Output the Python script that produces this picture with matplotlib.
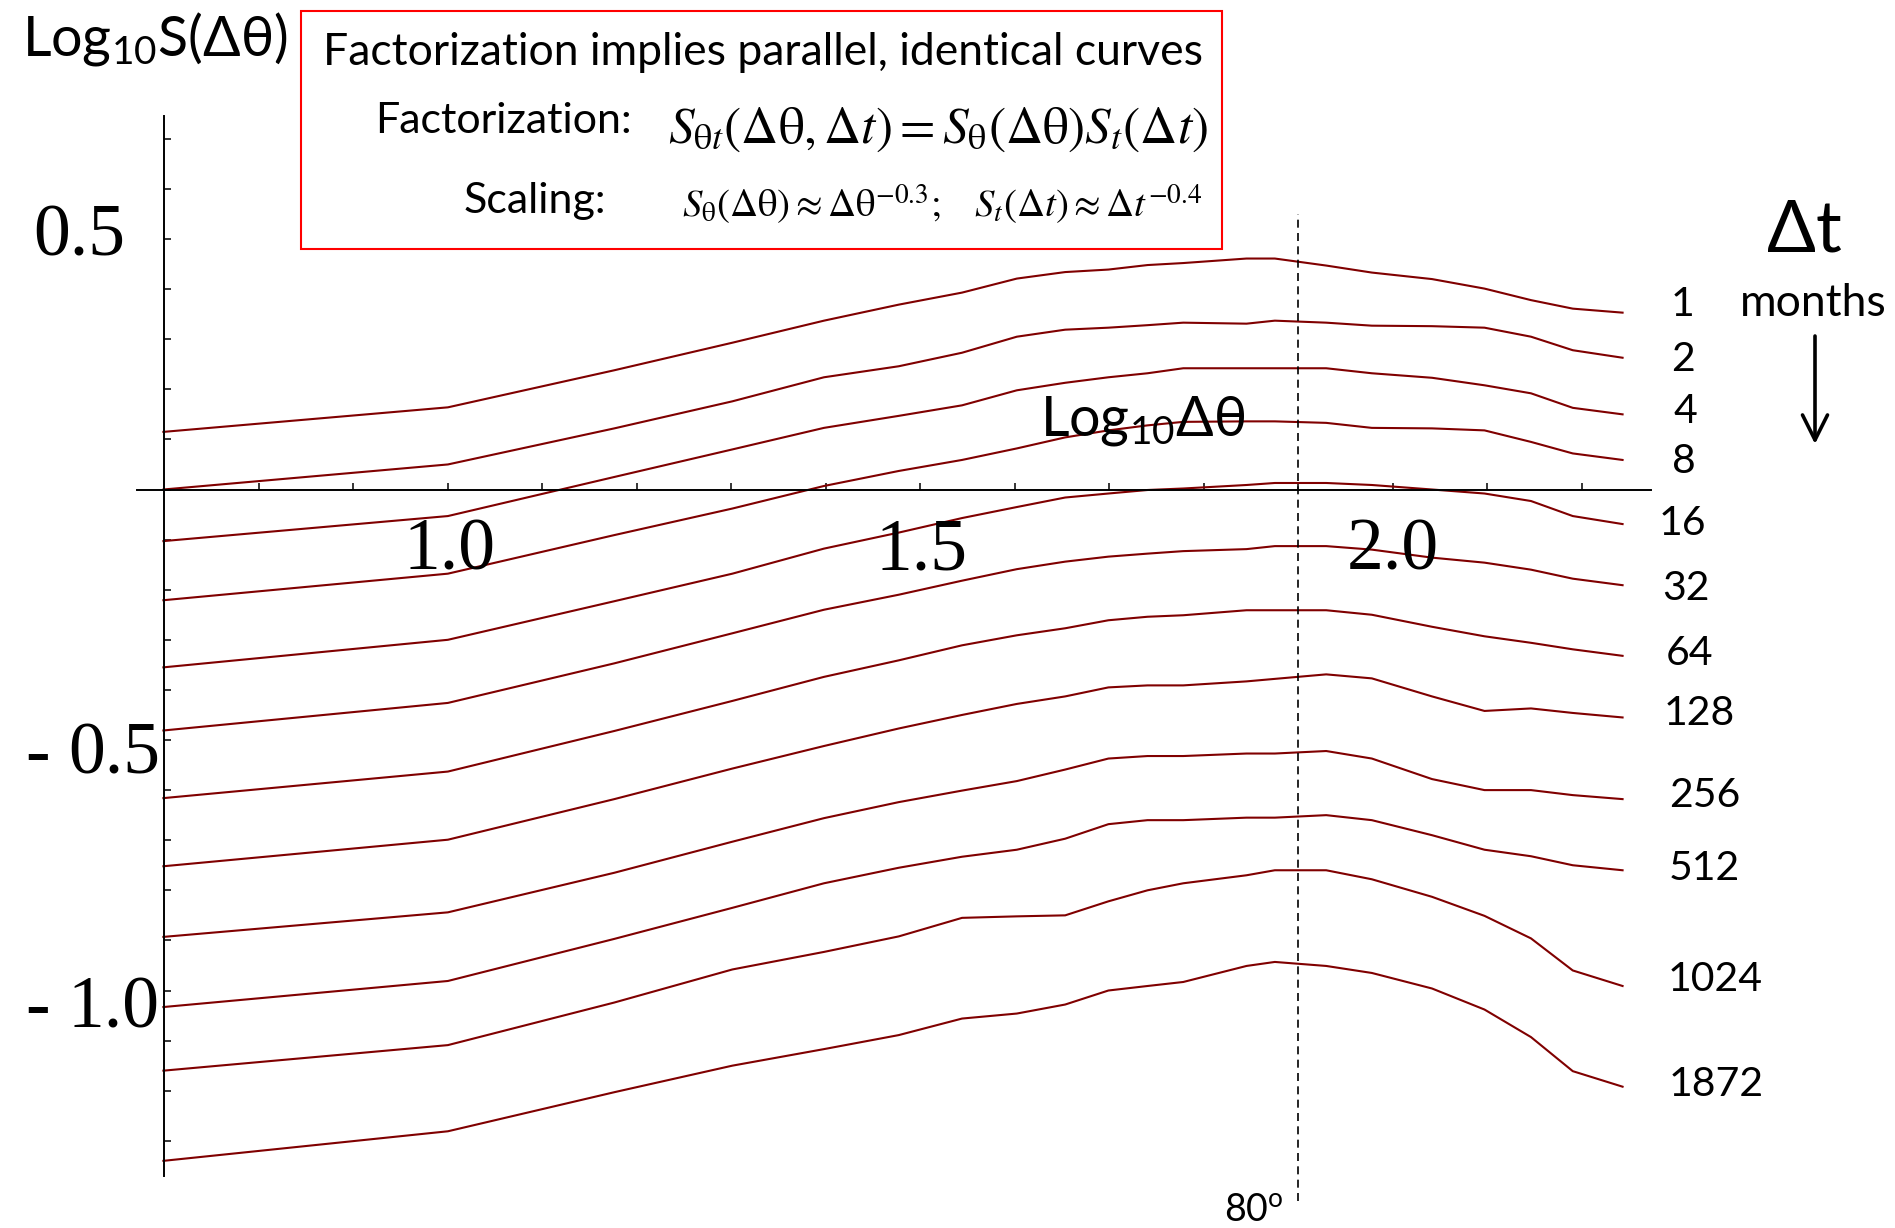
import numpy as np
import matplotlib
matplotlib.use("Agg")
import matplotlib.pyplot as plt
from matplotlib.patches import Rectangle

W, H = 1895, 1228

plt.rcParams['font.family'] = ['Lato', 'DejaVu Sans']
plt.rcParams['mathtext.fontset'] = 'custom'
plt.rcParams['mathtext.rm'] = 'Lato'
plt.rcParams['mathtext.it'] = 'Lato:italic'
plt.rcParams['mathtext.bf'] = 'Lato:bold'

# angular lags (degrees) where the curves have their vertices
lag_deg = [5, 10, 15, 20, 25, 30, 35, 40, 45, 50, 55, 60, 70, 75, 85, 95, 110, 125, 140, 155, 175]

dt_labels = ['1', '2', '4', '8', '16', '32', '64', '128', '256', '512', '1024', '1872']

# Log10 S(dtheta) for each time lag dt (months)
s_dt1 = [0.115, 0.164, 0.238, 0.293, 0.337, 0.369, 0.393, 0.421, 0.434, 0.439, 0.448,
         0.452, 0.461, 0.461, 0.447, 0.433, 0.420, 0.401, 0.378, 0.361, 0.353]
s_dt2 = [0.000, 0.050, 0.122, 0.176, 0.224, 0.246, 0.273, 0.305, 0.319, 0.323, 0.328,
         0.333, 0.331, 0.337, 0.333, 0.327, 0.326, 0.323, 0.305, 0.278, 0.263]
s_dt4 = [-0.103, -0.053, 0.025, 0.080, 0.123, 0.147, 0.168, 0.198, 0.213, 0.224, 0.232,
         0.242, 0.242, 0.242, 0.242, 0.232, 0.223, 0.208, 0.192, 0.163, 0.150]
s_dt8 = [-0.221, -0.168, -0.091, -0.038, 0.007, 0.037, 0.059, 0.082, 0.104, 0.118, 0.128,
         0.135, 0.136, 0.136, 0.133, 0.123, 0.122, 0.118, 0.095, 0.072, 0.059]
s_dt16 = [-0.355, -0.300, -0.223, -0.168, -0.118, -0.086, -0.057, -0.035, -0.016, -0.008, -0.001,
          0.002, 0.009, 0.013, 0.013, 0.009, 0.000, -0.008, -0.023, -0.053, -0.069]
s_dt32 = [-0.481, -0.426, -0.347, -0.287, -0.240, -0.210, -0.182, -0.159, -0.144, -0.134, -0.128,
          -0.123, -0.119, -0.113, -0.113, -0.120, -0.136, -0.146, -0.160, -0.178, -0.191]
s_dt64 = [-0.616, -0.563, -0.482, -0.422, -0.374, -0.341, -0.311, -0.291, -0.277, -0.261, -0.254,
          -0.251, -0.241, -0.241, -0.241, -0.250, -0.274, -0.293, -0.306, -0.319, -0.332]
s_dt128 = [-0.752, -0.699, -0.618, -0.557, -0.512, -0.477, -0.450, -0.428, -0.413, -0.395, -0.391,
           -0.391, -0.383, -0.378, -0.369, -0.377, -0.413, -0.442, -0.437, -0.446, -0.455]
s_dt256 = [-0.893, -0.844, -0.765, -0.703, -0.656, -0.624, -0.601, -0.582, -0.559, -0.537, -0.532,
           -0.532, -0.527, -0.527, -0.522, -0.537, -0.578, -0.600, -0.600, -0.610, -0.618]
s_dt512 = [-1.033, -0.981, -0.897, -0.835, -0.786, -0.755, -0.733, -0.719, -0.697, -0.668, -0.660,
           -0.660, -0.655, -0.655, -0.650, -0.660, -0.690, -0.719, -0.732, -0.750, -0.760]
s_dt1024 = [-1.160, -1.109, -1.024, -0.958, -0.923, -0.892, -0.855, -0.852, -0.850, -0.822, -0.800,
            -0.786, -0.770, -0.760, -0.760, -0.778, -0.813, -0.851, -0.896, -0.960, -0.991]
s_dt1872 = [-1.340, -1.281, -1.203, -1.150, -1.117, -1.089, -1.056, -1.046, -1.028, -1.000, -0.991,
            -0.983, -0.951, -0.943, -0.951, -0.965, -0.996, -1.038, -1.093, -1.161, -1.192]

curves = [s_dt1, s_dt2, s_dt4, s_dt8, s_dt16, s_dt32, s_dt64,
          s_dt128, s_dt256, s_dt512, s_dt1024, s_dt1872]

ref_log_angle = 1.9   # the 80 degree marker

# label positions in pixels (x centre, baseline) for the dt labels
label_px = [(1683, 316), (1683, 371), (1685, 423), (1684, 473), (1682, 535), (1686, 600),
            (1690, 665), (1699, 725), (1705, 807), (1704, 880), (1715, 991), (1716, 1096)]


def fpos(px, py):
    return px / W, 1 - py / H


fig = plt.figure(figsize=(W / 100, H / 100), dpi=100)
ax = fig.add_axes([0, 0, 1, 1])
ax.set_xlim(0.7 - 164.4 / 945, 0.7 + (W - 164.4) / 945)
ax.set_ylim((489.5 - H) / 501, 489.5 / 501)

x = np.log10(lag_deg)
for s in curves:
    ax.plot(x, s, color='#800000', lw=1.5, solid_joinstyle='miter')

ax.vlines(ref_log_angle, -1.42, 0.55, colors='black', lw=1.2,
          linestyles=(0, (4.8, 3.2)))

for side in ['top', 'right']:
    ax.spines[side].set_visible(False)
ax.spines['left'].set_position(('data', 0.7))
ax.spines['left'].set_bounds(-1.37, 0.745)
ax.spines['bottom'].set_position(('data', 0))
ax.spines['bottom'].set_bounds(0.671, 2.273)
for side in ['left', 'bottom']:
    ax.spines[side].set_linewidth(1.4)
ax.set_xticks(np.round(np.arange(0.8, 2.21, 0.1), 2))
ax.set_yticks(np.round(np.arange(-1.3, 0.71, 0.1), 2))
ax.tick_params(direction='in', length=5, width=1.1, labelleft=False, labelbottom=False)

serif = 'Liberation Serif'
for lab, px in [('1.0', 450), ('1.5', 921), ('2.0', 1393)]:
    fig.text(*fpos(px, 570), lab, family=serif, fontsize=53, ha='center', va='baseline')
fig.text(*fpos(33, 256), '0.5', family=serif, fontsize=53, ha='left', va='baseline')
for lab, py in [('0.5', 774), ('1.0', 1027)]:
    fig.text(*fpos(25, py), '-', family=serif, fontsize=53, fontweight='bold',
             ha='left', va='baseline')
    fig.text(*fpos(68, py), lab, family=serif, fontsize=53, ha='left', va='baseline')

fig.text(*fpos(22, 55), r'Log$_{10}$S(Δθ)', fontsize=40, va='baseline')
fig.text(*fpos(1040, 436), r'Log$_{10}$Δθ', fontsize=40, va='baseline')
fig.text(*fpos(1224, 1221), r'80$^{\mathrm{o}}$', fontsize=27, va='baseline')

# equation box
fig.add_artist(Rectangle(fpos(301, 249), (1222 - 301) / W, (249 - 11) / H,
                         transform=fig.transFigure, fill=False, edgecolor='#ff0000', lw=1.5))
fig.text(*fpos(323, 65), 'Factorization implies parallel, identical curves',
         fontsize=32, va='baseline')
fig.text(*fpos(375, 133), 'Factorization:', fontsize=31, va='baseline')
fig.text(*fpos(464, 213), 'Scaling:', fontsize=31, va='baseline')
fig.text(*fpos(668, 143),
         r'$S_{\mathrm{\theta}t}\left(\Delta\mathrm{\theta},\Delta t\right)=S_{\mathrm{\theta}}'
         r'\left(\Delta\mathrm{\theta}\right)S_{t}\left(\Delta t\right)$',
         fontsize=37, va='baseline', math_fontfamily='stix')
fig.text(*fpos(682, 217),
         r'$S_{\mathrm{\theta}}\left(\Delta\mathrm{\theta}\right)\approx\Delta\mathrm{\theta}^{-0.3};\quad'
         r'S_{t}\left(\Delta t\right)\approx\Delta t^{-0.4}$',
         fontsize=28, va='baseline', math_fontfamily='stix')

# dt labels on the right
for lab, (px, py) in zip(dt_labels, label_px):
    fig.text(*fpos(px, py), lab, fontsize=29.5, ha='center', va='baseline')
fig.text(*fpos(1804, 252), 'Δt', fontsize=52, ha='center', va='baseline')
fig.text(*fpos(1740, 316), 'months', fontsize=32, ha='left', va='baseline')
ax.annotate('', xy=fpos(1815, 444), xytext=fpos(1815, 336),
            xycoords='figure fraction', textcoords='figure fraction',
            arrowprops=dict(arrowstyle='->, head_length=0.9, head_width=0.45',
                            lw=2.6, color='black', shrinkA=0, shrinkB=0, mutation_scale=20))

fig.savefig('out.png', dpi=100)
